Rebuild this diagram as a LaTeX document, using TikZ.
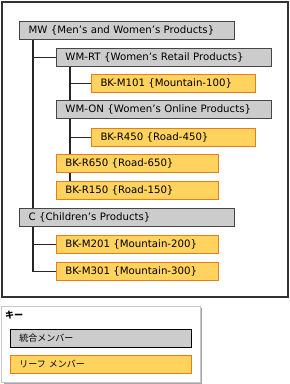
\documentclass[tikz,border=0pt]{standalone}
\usepackage{fontspec}
\setmainfont{DejaVu Sans}
\newfontfamily\jpfont{Noto Sans CJK JP}
\usetikzlibrary{backgrounds}
\definecolor{groupgray}{RGB}{204,204,204}
\definecolor{groupline}{RGB}{70,70,70}
\definecolor{frameline}{RGB}{51,51,51}
\definecolor{leaffill}{RGB}{255,211,94}
\definecolor{leafline}{RGB}{232,125,30}
\begin{document}
\begin{tikzpicture}[
    x=1pt, y=-1pt,
    every node/.style={anchor=north west, font=\fontsize{10.2}{12}\selectfont, inner xsep=9pt, inner ysep=0pt, minimum height=17.5pt, align=left},
    group/.style={draw=groupline, fill=groupgray, line width=1pt, text width=197pt},
    leaf/.style={draw=leafline, fill=leaffill, line width=1pt},
    deepleaf/.style={leaf, text width=146pt},
    midleaf/.style={leaf, text width=144pt},
    branch/.style={draw=black!85, line width=1.2pt}
]
\useasboundingbox (0,0) rectangle (290,384);
% outer frame
\draw[frameline, line width=1.5pt] (2,2) rectangle (288,297);

% hierarchy
\node[group]    (mw)   at (19,21)  {MW \{Men’s and Women’s Products\}};
\node[group]    (wmrt) at (56,48)  {WM-RT \{Women’s Retail Products\}};
\node[deepleaf] (m101) at (91,74)  {BK-M101 \{Mountain-100\}};
\node[group]    (wmon) at (56,100) {WM-ON \{Women’s Online Products\}};
\node[deepleaf] (r450) at (91,128) {BK-R450 \{Road-450\}};
\node[midleaf]  (r650) at (56,154) {BK-R650 \{Road-650\}};
\node[midleaf]  (r150) at (56,181) {BK-R150 \{Road-150\}};
\node[group]    (c)    at (19,208) {C \{Children’s Products\}};
\node[midleaf]  (m201) at (56,235) {BK-M201 \{Mountain-200\}};
\node[midleaf]  (m301) at (56,262) {BK-M301 \{Mountain-300\}};

\begin{scope}[on background layer]
    \draw[branch] ([xshift=14pt]mw.south west) |- (m301.west);
    \draw[branch] ([xshift=14pt]mw.south west) |- (wmrt.west);
    \draw[branch] ([xshift=14pt]mw.south west) |- (m201.west);
    \draw[branch] ([xshift=14pt]wmrt.south west) -- ([xshift=14pt]r150.north west);
    \draw[branch] ([xshift=14pt]wmrt.south west) |- (m101.west);
    \draw[branch] ([xshift=14pt]wmrt.south west) |- (r450.west);
\end{scope}

% key
\fill[black!35] (4,308) rectangle (202,384);
\draw[black!22, fill=white, line width=1pt] (2,306) rectangle (200,382);
\node[inner xsep=0pt, minimum height=0pt, font=\jpfont\bfseries\fontsize{9}{10}\selectfont] (keytitle) at (5,311) {キー};
\node[group, draw=black, text width=163pt, font=\jpfont\fontsize{9}{10}\selectfont] (keygroup) at (10,329) {統合メンバー};
\node[leaf, text width=163pt, font=\jpfont\fontsize{9}{10}\selectfont] (keyleaf) at (10,355) {リーフ メンバー};
\end{tikzpicture}
\end{document}
